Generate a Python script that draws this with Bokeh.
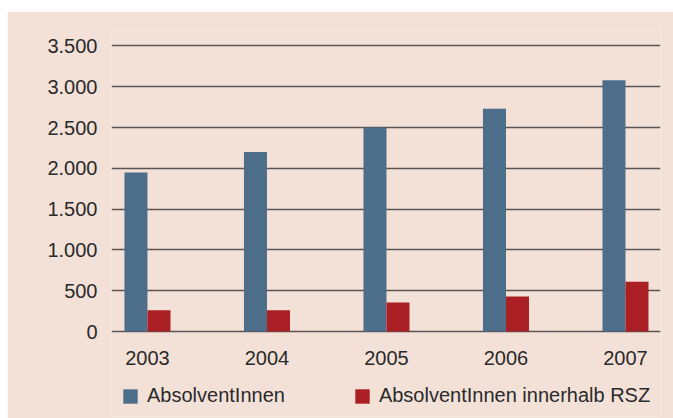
from bokeh.plotting import figure
from bokeh.models import Range1d, FixedTicker, Legend, LegendItem, ColumnDataSource, Spacer
from bokeh.layouts import column, row
from bokeh.core.properties import value
from bokeh.embed import file_html
from bokeh.resources import INLINE

years = ["2003", "2004", "2005", "2006", "2007"]
absolventen = [1950, 2200, 2500, 2730, 3080]
innerhalb_rsz = [260, 260, 355, 430, 610]
y_ticks = [0, 500, 1000, 1500, 2000, 2500, 3000, 3500]
y_tick_labels = ["0", "500", "1.000", "1.500", "2.000", "2.500", "3.000", "3.500"]

BG = "#f3e1d8"
BLUE = "#4d6e8a"
RED = "#a91f24"
TXT = "#2a2a2a"
FONT = "Liberation Sans"

xs = list(range(len(years)))
bw = 0.1925
src = ColumnDataSource(dict(
    x=xs,
    xb=[x - bw / 2 for x in xs],
    xr=[x + bw / 2 for x in xs],
    a=absolventen,
    r=innerhalb_rsz,
    base=[0] * len(years),
    lab=years,
))

p = figure(width=666, height=407, output_backend="svg", toolbar_location=None,
           x_range=Range1d(-0.301, 4.293), y_range=Range1d(-1042, 3690),
           min_border_left=104, min_border_right=13, min_border_top=19, min_border_bottom=2)
p.background_fill_color = BG
p.border_fill_color = BG
p.outline_line_color = None

rb = p.vbar(x="xb", top="a", width=bw, source=src, fill_color=BLUE, line_color=None)
rr = p.vbar(x="xr", top="r", width=bw, source=src, fill_color=RED, line_color=None)

# year labels under the groups
p.text(x="x", y="base", text="lab", source=src, y_offset=26, text_align="center",
       text_baseline="alphabetic", text_font=value(FONT), text_font_size="20px",
       text_color=TXT)

p.xgrid.grid_line_color = None
p.ygrid.ticker = FixedTicker(ticks=y_ticks)
p.ygrid.grid_line_color = "#5a5454"
p.ygrid.grid_line_width = 1.6
p.xaxis.visible = False

p.yaxis.ticker = FixedTicker(ticks=y_ticks)
p.yaxis.major_label_overrides = {t: l for t, l in zip(y_ticks, y_tick_labels)}
ax = p.yaxis[0]
ax.axis_line_color = None
ax.major_tick_line_color = None
ax.minor_tick_line_color = None
ax.major_tick_out = 0
ax.major_tick_in = 0
ax.major_label_text_font = FONT
ax.major_label_text_font_size = "20px"
ax.major_label_text_color = TXT
ax.major_label_standoff = 14

lg = Legend(items=[LegendItem(label="AbsolventInnen", renderers=[rb]),
                   LegendItem(label="AbsolventInnen innerhalb RSZ", renderers=[rr])],
            location=(10, 9), orientation="horizontal", padding=0, margin=0,
            border_line_color=None, background_fill_alpha=0, glyph_width=18,
            glyph_height=18, label_height=18, label_standoff=8, spacing=68,
            label_text_font=FONT, label_text_font_size="20px", label_text_color=TXT)
p.add_layout(lg)

layout = column(Spacer(width=673, height=11), row(Spacer(width=7, height=407), p))

open("out.html", "w").write(file_html(layout, INLINE))
